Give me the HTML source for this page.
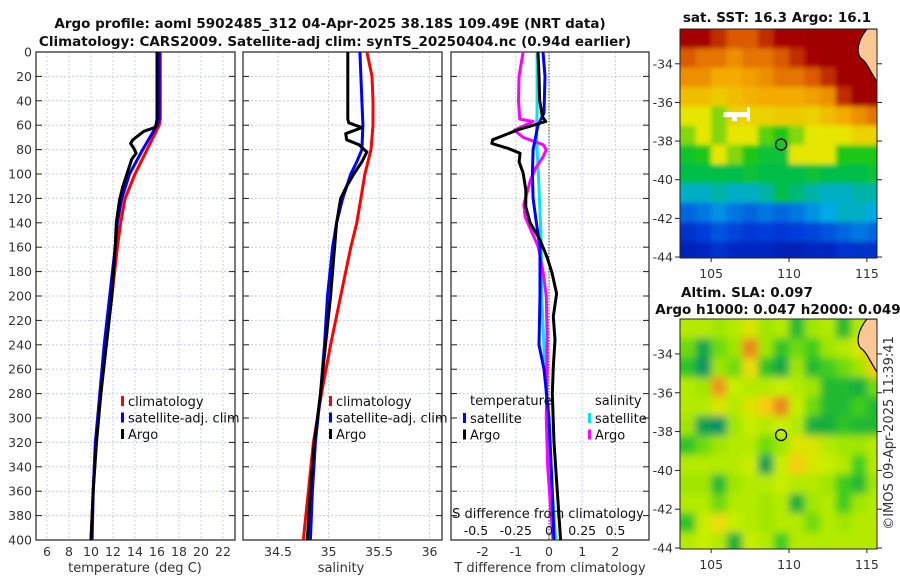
<!DOCTYPE html>
<html><head><meta charset="utf-8"><style>
body{margin:0;background:#fff}
svg{display:block;font-family:"DejaVu Sans","Liberation Sans",sans-serif}
</style></head><body>
<svg id="c" width="900" height="580" viewBox="0 0 900 580"></svg>
<script>
// ---------- data ----------
const depthTicks=[0,20,40,60,80,100,120,140,160,180,200,220,240,260,280,300,320,340,360,380,400];
const tTicks=[6,8,10,12,14,16,18,20,22];
const sTicks=[34.5,35,35.5,36];
const dTicks=[-2,-1,0,1,2];
const sdTickLabels=["-0.5","-0.25","0","0.25","0.5"];
const sdTickVals=[-0.55,-0.25,0,0.25,0.5];
// temperature profiles
const argoTDepth=[0,20,40,55,60,62,65,72,75,79,83,88,99,110,121,140,160,200,240,280,320,360,400];
const argoT=[16.0,16.0,16.0,16.0,15.9,15.8,14.8,13.8,13.6,13.9,14.1,13.7,13.3,12.9,12.6,12.3,12.2,11.9,11.4,10.9,10.5,10.2,10.0];
const climTDepth=[0,20,40,55,60,80,100,120,140,160,200,240,280,320,360,400];
const climT=[16.3,16.3,16.3,16.3,16.2,15.1,14.0,13.1,12.7,12.4,11.9,11.3,10.9,10.4,10.2,10.0];
const satTDepth=[0,20,40,55,60,80,100,120,140,160,200,240,280,320,360,400];
const satT=[16.2,16.2,16.2,16.2,16.0,14.7,13.5,12.8,12.4,12.2,11.7,11.2,10.8,10.4,10.2,10.1];
// salinity profiles
const argoSDepth=[0,20,40,55,58,62,67,72,76,82,90,100,110,120,140,160,200,240,280,320,360,400];
const argoS=[35.19,35.19,35.19,35.19,35.2,35.33,35.17,35.18,35.3,35.38,35.33,35.25,35.18,35.12,35.08,35.06,35.02,34.97,34.92,34.86,34.82,34.79];
const climSDepth=[0,20,40,60,80,100,120,140,160,200,240,280,320,360,400];
const climS=[35.38,35.43,35.44,35.44,35.42,35.36,35.32,35.28,35.22,35.12,35.02,34.93,34.85,34.8,34.75];
const satSDepth=[0,20,40,60,80,90,100,120,140,160,200,240,280,320,360,400];
const satS=[35.31,35.32,35.33,35.34,35.33,35.28,35.22,35.14,35.08,35.04,34.99,34.96,34.92,34.87,34.84,34.82];
// differences
const dArgoTDepth=[0,20,40,53,57,64,72,75,79,83,90,99,113,127,140,154,168,181,198,217,236,258,280,320,360,400];
const dArgoT=[-0.33,-0.3,-0.28,-0.2,-0.1,-0.96,-1.7,-1.72,-1.23,-0.87,-0.9,-0.78,-0.7,-0.7,-0.57,-0.27,-0.06,0.09,0.23,0.13,0.18,0.13,0.1,0.15,0.25,0.35];
const dSatTDepth=[0,20,50,60,80,100,120,140,160,200,240,260,300,360,400];
const dSatT=[-0.18,-0.12,-0.15,-0.33,-0.48,-0.5,-0.48,-0.38,-0.27,-0.27,-0.3,-0.15,0,0.1,0.15];
const dArgoSDepth=[0,20,40,55,57,64,70,76,80,86,95,105,113,125,135,145,160,180,200,230,260,300,340,400];
const dArgoS=[-0.195,-0.226,-0.23,-0.22,-0.12,-0.26,-0.195,-0.045,-0.02,-0.045,-0.1,-0.14,-0.16,-0.19,-0.18,-0.14,-0.08,-0.045,-0.02,-0.015,-0.015,-0.02,-0.01,0.03];
const dSatSDepth=[0,50,60,80,100,150,200,260,320,400];
const dSatS=[-0.09,-0.09,-0.095,-0.09,-0.08,-0.06,-0.055,-0.03,0,0.05];
// maps
const latTicks=[-34,-36,-38,-40,-42,-44];
const lonTicks=[105,110,115];
const sstGrid=[
[0.95,0.95,0.9,0.85,0.85,0.9,0.95,0.95,1,1,1,1,1],
[0.85,0.8,0.8,0.75,0.8,0.8,0.85,0.9,0.95,1,1,1,1],
[0.75,0.75,0.7,0.7,0.72,0.75,0.8,0.8,0.85,0.9,1,1,1],
[0.65,0.65,0.62,0.65,0.68,0.7,0.7,0.7,0.72,0.75,0.9,1,1],
[0.55,0.55,0.5,0.6,0.6,0.6,0.62,0.62,0.6,0.65,0.7,0.75,0.8],
[0.5,0.55,0.5,0.55,0.55,0.48,0.45,0.5,0.55,0.55,0.55,0.6,0.6],
[0.42,0.45,0.55,0.5,0.45,0.4,0.4,0.55,0.55,0.55,0.45,0.45,0.45],
[0.38,0.38,0.38,0.38,0.4,0.38,0.38,0.38,0.4,0.38,0.38,0.38,0.4],
[0.3,0.3,0.32,0.3,0.3,0.32,0.38,0.35,0.32,0.3,0.3,0.32,0.32],
[0.2,0.22,0.25,0.22,0.2,0.22,0.2,0.22,0.25,0.28,0.3,0.3,0.28],
[0.12,0.15,0.18,0.16,0.14,0.15,0.14,0.15,0.16,0.18,0.2,0.22,0.2],
[0.08,0.1,0.12,0.1,0.1,0.1,0.08,0.08,0.1,0.1,0.12,0.12,0.12]];
const slaGrid=[
[0.5,0.5,0.45,0.5,0.6,0.45,0.5,0.25,0.45,0.5,0.25,0.5,0.6],
[0.4,0.15,0.4,0.45,0.85,0.45,0.3,0.4,0.35,0.45,0.5,0.6,0.8],
[0.3,0.05,0.45,0.4,0.65,0.3,0.15,0.45,0.25,0.35,0.4,0.45,0.7],
[0.5,0.45,0.8,0.55,0.5,0.5,0.55,0.5,0.45,0.25,0.25,0.2,0.4],
[0.5,0.5,0.6,0.5,0.6,0.7,0.85,0.55,0.4,0.25,0.25,0.35,0.25],
[0.45,0.1,0.05,0.45,0.55,0.5,0.55,0.5,0.2,0.2,0.3,0.25,0.25],
[0.3,0.4,0.45,0.5,0.5,0.4,0.45,0.6,0.6,0.5,0.45,0.45,0.5],
[0.5,0.5,0.5,0.5,0.55,0.1,0.55,0.7,0.6,0.55,0.5,0.35,0.5],
[0.45,0.45,0.25,0.45,0.5,0.5,0.55,0.5,0.5,0.45,0.35,0.25,0.45],
[0.5,0.5,0.4,0.5,0.5,0.45,0.5,0.2,0.45,0.5,0.35,0.45,0.5],
[0.3,0.55,0.65,0.55,0.5,0.45,0.5,0.5,0.4,0.5,0.45,0.5,0.5],
[0.5,0.55,0.5,0.2,0.55,0.5,0.35,0.5,0.5,0.5,0.5,0.5,0.5]];
const argoLon=109.49, argoLat=-38.18;

// ---------- helpers ----------
const NS="http://www.w3.org/2000/svg";
const svg=document.getElementById('c');
function el(tag,attrs,parent,text){const e=document.createElementNS(NS,tag);for(const k in attrs)e.setAttribute(k,attrs[k]);if(text!==undefined)e.textContent=text;(parent||svg).appendChild(e);return e;}
const Y0=52,Y1=540;
const yD=d=>Y0+(Y1-Y0)*d/400;
const panels=[
 {x0:36,x1:235,lo:5,hi:23.09,name:'temperature-panel'},
 {x0:243,x1:442,lo:34.153,hi:36.123,name:'salinity-panel'},
 {x0:451,x1:649,lo:-2.952,hi:3.012,name:'difference-panel'}];
function sx(p,v){return p.x0+(v-p.lo)/(p.hi-p.lo)*(p.x1-p.x0);}

function panelFrame(p,ticks,labels){
 const g=el('g',{},svg);
 
 
 depthTicks.forEach(d=>{if(d>0&&d<400)el('line',{x1:p.x0,x2:p.x1,y1:yD(d),y2:yD(d),stroke:'#c8cdf0','stroke-width':1,'stroke-dasharray':'2,2'},g);});
 ticks.forEach(v=>{el('line',{x1:sx(p,v),x2:sx(p,v),y1:Y0,y2:Y1,stroke:'#c8cdf0','stroke-width':1,'stroke-dasharray':'2,2'},g);});
 depthTicks.forEach(d=>{el('line',{x1:p.x0,x2:p.x0+6,y1:yD(d),y2:yD(d),stroke:'#222'},g);el('line',{x1:p.x1-6,x2:p.x1,y1:yD(d),y2:yD(d),stroke:'#222'},g);});
 el('rect',{x:p.x0,y:Y0,width:p.x1-p.x0,height:Y1-Y0,fill:'none',stroke:'#222','stroke-width':1.2},g);
 const lg=el('g',{},g);
 
 
 ticks.forEach((v,i)=>{el('text',{x:sx(p,v),y:556,'font-size':12.5,fill:'#333','text-anchor':'middle'},lg,labels[i]);});
 return g;
}
function line(p,depths,vals,color,name,w){
 const pts=depths.map((d,i)=>sx(p,vals[i]).toFixed(1)+','+yD(d).toFixed(1)).join(' ');
 const e=el('polyline',{points:pts,fill:'none',stroke:color,'stroke-width':w||3,'stroke-linejoin':'round'});
 
 
 return e;
}

const t1=el('text',{x:330,y:28,'font-size':13.5,'font-weight':'bold','text-anchor':'middle',fill:'#111'},svg,'Argo profile: aoml 5902485_312 04-Apr-2025 38.18S 109.49E (NRT data)');

const t2=el('text',{x:335,y:46,'font-size':13.5,'font-weight':'bold','text-anchor':'middle',fill:'#111'},svg,'Climatology: CARS2009. Satellite-adj clim: synTS_20250404.nc (0.94d earlier)');


const dl=el('g',{});

depthTicks.forEach(d=>el('text',{x:32,y:yD(d)+4.5,'font-size':12.5,fill:'#333','text-anchor':'end'},dl,String(d)));

const P1=panels[0];
panelFrame(P1,tTicks,tTicks.map(String));
line(P1,climTDepth,climT,'#ff0000','climatology-temperature-line');
line(P1,satTDepth,satT,'#0000ff','satellite-temperature-line');
line(P1,argoTDepth,argoT,'#000000','argo-temperature-line');
let xl=el('text',{x:135,y:572,'font-size':13,fill:'#333','text-anchor':'middle'},svg,'temperature (deg C)');


const P2=panels[1];
panelFrame(P2,sTicks,sTicks.map(String));
line(P2,climSDepth,climS,'#ff0000','climatology-salinity-line');
line(P2,satSDepth,satS,'#0000ff','satellite-salinity-line');
line(P2,argoSDepth,argoS,'#000000','argo-salinity-line');
xl=el('text',{x:341,y:572,'font-size':13,fill:'#333','text-anchor':'middle'},svg,'salinity');


const P3=panels[2];
panelFrame(P3,dTicks,dTicks.map(String));
const zl=el('line',{x1:sx(P3,0),x2:sx(P3,0),y1:Y0,y2:Y1,stroke:'#556b2f','stroke-width':1.2,'stroke-dasharray':'1.5,1.5'});

const sScale=4;
line(P3,dSatSDepth,dSatS.map(v=>v*sScale),'#00e5f0','satellite-salinity-difference-line');
line(P3,dArgoSDepth,dArgoS.map(v=>v*sScale),'#ff00ff','argo-salinity-difference-line');
line(P3,dSatTDepth,dSatT,'#0000ff','satellite-temperature-difference-line');
line(P3,dArgoTDepth,dArgoT,'#000000','argo-temperature-difference-line');
xl=el('text',{x:550,y:572,'font-size':13,fill:'#333','text-anchor':'middle'},svg,'T difference from climatology');

xl=el('text',{x:548,y:518,'font-size':13,fill:'#111','text-anchor':'middle'},svg,'S difference from climatology');

const sg=el('g',{});

sdTickVals.forEach((v,i)=>el('text',{x:sx(P3,v*sScale),y:535,'font-size':12.5,fill:'#111','text-anchor':'middle'},sg,sdTickLabels[i]));

function legend(name,x,y,items){
 const g=el('g',{});
 
 items.forEach((it,i)=>{
  const yy=y+i*16.5;
  if(it.c) el('rect',{x:x,y:yy-9,width:3,height:10,fill:it.c},g);
  el('text',{x:x+(it.c?7:0),y:yy+1,'font-size':13,fill:'#111'},g,it.t);
 });
 return g;
}
legend('temperature-legend',121,405,[{c:'#ff0000',t:'climatology'},{c:'#0000ff',t:'satellite-adj. clim'},{c:'#000',t:'Argo'}]);
legend('salinity-legend',329,405,[{c:'#ff0000',t:'climatology'},{c:'#0000ff',t:'satellite-adj. clim'},{c:'#000',t:'Argo'}]);
legend('t-difference-legend',463,422,[{c:'#0000ff',t:'satellite'},{c:'#000',t:'Argo'}]);
legend('s-difference-legend',588,422,[{c:'#00e5f0',t:'satellite'},{c:'#ff00ff',t:'Argo'}]);
let lt=el('text',{x:470,y:405,'font-size':13,fill:'#111'},svg,'temperature');

lt=el('text',{x:595,y:405,'font-size':13,fill:'#111'},svg,'salinity');


// ---------- maps ----------
function lerpStops(stops,v){
 v=Math.max(0,Math.min(1,v));
 for(let i=1;i<stops.length;i++){if(v<=stops[i][0]){const a=stops[i-1],b=stops[i],t=(v-a[0])/(b[0]-a[0]||1);
  return 'rgb('+[1,2,3].map(k=>Math.round(a[k]+(b[k]-a[k])*t)).join(',')+')';}}
 const l=stops[stops.length-1];return 'rgb('+l[1]+','+l[2]+','+l[3]+')';
}
const jet=[[0,0,0,140],[0.15,0,60,220],[0.28,0,170,230],[0.38,0,190,70],[0.45,30,200,20],[0.55,230,230,0],[0.7,245,170,0],[0.85,220,90,0],[0.95,165,0,0],[1,160,0,0]];
const slaMap=[[0,0,140,110],[0.2,20,175,60],[0.35,60,205,30],[0.45,160,230,0],[0.55,200,238,0],[0.68,248,215,10],[0.82,238,140,30],[1,220,100,30]];
function map(name,y0,y1,grid,stops,blur){
 const M={x0:680,x1:877,y0:y0,y1:y1,lon0:103.0,lon1:115.65,lat0:-32.2,lat1:-44.05};
 const mx=l=>M.x0+(l-M.lon0)/(M.lon1-M.lon0)*(M.x1-M.x0);
 const my=l=>M.y0+(l-M.lat0)/(M.lat1-M.lat0)*(M.y1-M.y0);
 const g=el('g',{});
 
 const cid=name+'-clip';
 const defs=el('defs',{},g);
 const cp=el('clipPath',{id:cid},defs);
 el('rect',{x:M.x0,y:M.y0,width:M.x1-M.x0,height:M.y1-M.y0},cp);
 const f=el('filter',{id:name+'-blur',x:'-10%',y:'-10%',width:'120%',height:'120%'},defs);el('feGaussianBlur',{stdDeviation:blur},f);
 const inner=el('g',{'clip-path':'url(#'+cid+')'},g);
 const cells=el('g',{filter:'url(#'+name+'-blur)'},inner);
 const pad=8;
 grid.forEach((row,r)=>row.forEach((v,c)=>{
  const lonA=M.lon0+c, latA=M.lat0-r;
  let x=mx(lonA), y=my(latA), w=mx(lonA+1)-x+0.6, h=my(latA-1)-y+0.6;
  if(c===0){x-=pad;w+=pad;} if(r===0){y-=pad;h+=pad;}
  if(c===row.length-1)w+=pad; if(r===grid.length-1)h+=pad;
  const cell=el('rect',{x:x.toFixed(1),y:y.toFixed(1),width:w.toFixed(1),height:h.toFixed(1),fill:lerpStops(stops,v)},cells);
  
  
 }));
 const land=el('path',{d:`M${mx(115.0)},${M.y0} C${mx(114.4)},${my(-32.8)} ${mx(114.3)},${my(-33.4)} ${mx(114.6)},${my(-33.7)} C${mx(115.0)},${my(-33.9)} ${mx(115.2)},${my(-34.4)} ${mx(115.7)},${my(-35.0)} L${M.x1},${M.y0} Z`,fill:'#fbc895',stroke:'#000','stroke-width':1.2},inner);
 
 const dot=el('circle',{cx:mx(argoLon),cy:my(argoLat),r:5.5,fill:'none',stroke:'#000','stroke-width':1.3},g);
 
 el('rect',{x:M.x0,y:M.y0,width:M.x1-M.x0,height:M.y1-M.y0,fill:'none',stroke:'#222','stroke-width':1},g);
 latTicks.forEach(l=>{el('line',{x1:M.x0-5,x2:M.x0,y1:my(l),y2:my(l),stroke:'#222'},g);el('line',{x1:M.x1,x2:M.x1+5,y1:my(l),y2:my(l),stroke:'#222'},g);
  el('text',{x:673,y:my(l)+4.5,'font-size':12.5,fill:'#333','text-anchor':'end'},g,String(l));});
 lonTicks.forEach(l=>{el('line',{x1:mx(l),x2:mx(l),y1:M.y1,y2:M.y1+4,stroke:'#222'},g);
  el('text',{x:mx(l),y:M.y1+20,'font-size':12.5,fill:'#333','text-anchor':'middle'},g,String(l));});
 return {mx,my,g};
}
const m1=map('sst-map',29,258,sstGrid,jet,2.5);
const wp=el('path',{d:`M${m1.mx(105.8)},${m1.my(-36.5)} h${m1.mx(107.3)-m1.mx(105.8)} v-5 h3 v14 h-3 v-4 h-10 v4 h-5 v-4 h-${(m1.mx(107.3)-m1.mx(105.8))-15} Z`,fill:'#fff'});

const m2=map('sla-map',319,549,slaGrid,slaMap,4);
let mt=el('text',{x:777,y:22,'font-size':13.5,'font-weight':'bold','text-anchor':'middle',fill:'#111'},svg,'sat. SST: 16.3 Argo: 16.1');

mt=el('text',{x:747,y:297,'font-size':13.5,'font-weight':'bold','text-anchor':'middle',fill:'#111'},svg,'Altim. SLA: 0.097');

mt=el('text',{x:778,y:314,'font-size':13.5,'font-weight':'bold','text-anchor':'middle',fill:'#111'},svg,'Argo h1000: 0.047 h2000: 0.049');

mt=el('text',{x:893,y:433,'font-size':13,fill:'#333','text-anchor':'middle',transform:'rotate(-90 893 433)'},svg,'©IMOS 09-Apr-2025 11:39:41');

</script>
</body></html>
